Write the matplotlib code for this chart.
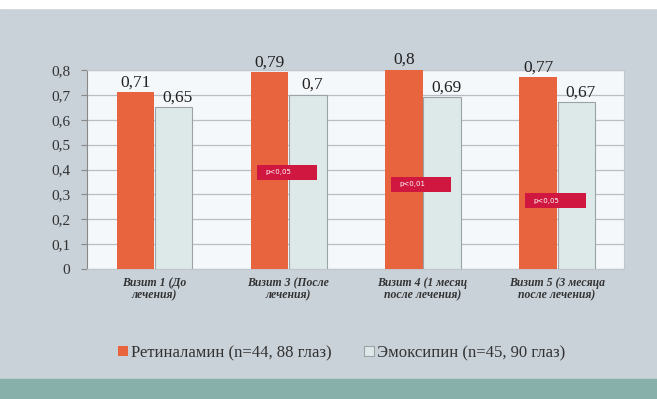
import matplotlib.pyplot as plt
import numpy as np

visits = ["Визит 1 (До\nлечения)", "Визит 3 (После\nлечения)",
          "Визит 4 (1 месяц\nпосле лечения)", "Визит 5 (3 месяца\nпосле лечения)"]
retinalamin = [0.71, 0.79, 0.8, 0.77]
emoxipin = [0.65, 0.7, 0.69, 0.67]
p_labels = ["p<0,05", "p<0,01", "p<0,05"]
p_levels = [0.388, 0.34, 0.275]

bg = "#c9d1d9"
orange = "#e8643f"
light = "#dde8e9"

fig = plt.figure(figsize=(6.57, 3.99), dpi=100, facecolor=bg)
ax = fig.add_axes([87 / 657, 1 - 269 / 399, 537 / 657, 199 / 399])
ax.set_facecolor("#f5f8fa")

x = np.arange(len(visits))
w = 0.28
b1 = ax.bar(x - w / 2, retinalamin, w, color=orange, zorder=3,
            label="Ретиналамин (n=44, 88 глаз)")
b2 = ax.bar(x + w / 2 + 0.005, emoxipin, w, color=light, edgecolor="#9aa3a8",
            linewidth=0.8, zorder=3, label="Эмоксипин (n=45, 90 глаз)")

for bars, vals in ((b1, retinalamin), (b2, emoxipin)):
    for r, v in zip(bars, vals):
        ax.text(r.get_x() + r.get_width() / 2 + (0.03 if bars is b2 else 0), v + 0.008,
                str(v).replace(".", ","), ha="center", va="bottom",
                family="Liberation Serif", fontsize=12.5, color="#222222")

# significance markers across the orange bars
bw, bh = 0.45, 0.06
for i, (lab, lv) in enumerate(zip(p_labels, p_levels), start=1):
    ax.add_patch(plt.Rectangle((i - 0.01 - bw / 2, lv - bh / 2), bw, bh,
                               facecolor="#cf1740", edgecolor="none", zorder=5))
    ax.text(i - 0.01 - bw / 2 + 0.06, lv, lab, ha="left", va="center",
            fontsize=5, color="white", zorder=6)

ax.set_xlim(-0.5, 3.5)
ax.set_ylim(0, 0.8)
ticks = np.arange(0, 0.81, 0.1)
ax.set_yticks(ticks)
ax.set_yticklabels([("%.1f" % t).replace(".", ",") if t > 0 else "0" for t in ticks],
                   family="Liberation Serif", fontsize=11, color="#333333")
ax.set_xticks(x)
ax.set_xticklabels(visits, family="Liberation Serif", fontsize=8.5,
                   style="italic", weight="bold", color="#333333",
                   linespacing=1.0)
ax.tick_params(axis="x", length=0, pad=6)
ax.tick_params(axis="y", length=4, color="#888888", pad=8)
ax.grid(axis="y", color="#b8bec3", linewidth=0.9, zorder=0)
for s in ax.spines.values():
    s.set_color("#c0c6cb")
ax.spines["left"].set_color("#888888")

leg = fig.legend(loc="center", bbox_to_anchor=(0.52, 1 - 353 / 399), ncol=2,
                 frameon=False, handlelength=0.6, handleheight=0.6,
                 handletextpad=0.2, columnspacing=1.9,
                 prop={"family": "Liberation Serif", "size": 12})
for t in leg.get_texts():
    t.set_color("#333333")

# white strip on top and teal band along the bottom
fig.patches.append(plt.Rectangle((0, 1 - 8 / 399), 1, 8 / 399,
                                 transform=fig.transFigure, color="white", zorder=0))
fig.patches.append(plt.Rectangle((0, 0), 1, 20 / 399,
                                 transform=fig.transFigure, color="#87b0aa", zorder=0))

fig.savefig("out.png", dpi=100, facecolor=bg)
